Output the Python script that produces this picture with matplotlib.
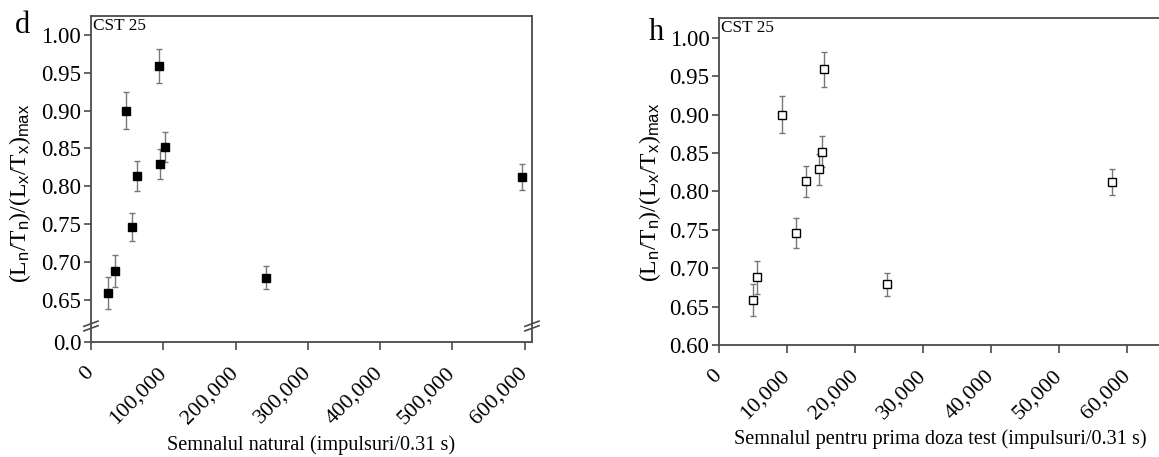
import numpy as np
import matplotlib
matplotlib.use('Agg')
from matplotlib import pyplot as plt
from matplotlib.ticker import FuncFormatter

matplotlib.rcParams['font.family'] = ['Liberation Serif']
matplotlib.rcParams['mathtext.fontset'] = 'custom'
matplotlib.rcParams['mathtext.rm'] = 'Liberation Serif'
matplotlib.rcParams['mathtext.it'] = 'Liberation Serif'
matplotlib.rcParams['mathtext.sf'] = 'Liberation Sans'
matplotlib.rcParams['font.size'] = 14

# panel d: natural signal vs normalised ratio
nat_x = [23500, 33200, 48400, 56700, 63600, 94000, 95400, 102000, 242000, 596000]
# panel h: first test-dose signal
test_x = [5000, 5600, 9260, 11300, 12800, 14700, 15150, 15450, 24700, 57800]
ratio = [0.659, 0.688, 0.900, 0.746, 0.813, 0.959, 0.829, 0.852, 0.679, 0.812]
ratio_err = [0.021, 0.021, 0.024, 0.019, 0.020, 0.023, 0.020, 0.020, 0.015, 0.017]
# in panel h the same points are listed in another order
test_ratio = [0.659, 0.688, 0.900, 0.746, 0.813, 0.829, 0.852, 0.959, 0.679, 0.812]
test_err = [0.021, 0.021, 0.024, 0.019, 0.020, 0.020, 0.020, 0.023, 0.015, 0.017]

nat_ticks = [0, 100000, 200000, 300000, 400000, 500000, 600000]
test_ticks = [0, 10000, 20000, 30000, 40000, 50000, 60000]
left_yticks = [0.0, 0.65, 0.70, 0.75, 0.80, 0.85, 0.90, 0.95, 1.00]
right_yticks = [0.60, 0.65, 0.70, 0.75, 0.80, 0.85, 0.90, 0.95, 1.00]

ylab = r'$(L_{\mathsf{n}}/T_{\mathsf{n}})/(L_{\mathsf{x}}/T_{\mathsf{x}})_{\mathsf{max}}$'
spine_col = '#4a4a4a'
err_col = '#777777'

# broken y scale for panel d
lo_top = 0.0212
up_bot = 0.6156
xp = [-10, lo_top, up_bot, 10]
fp = [-10, lo_top, lo_top + 0.0005, 10 - (up_bot - lo_top) + 0.0005]


def fwd(y):
    return np.interp(y, xp, fp)


def inv(t):
    return np.interp(t, fp, xp)


fig = plt.figure(figsize=(11.59, 4.57), dpi=100)
ax1 = fig.add_axes([0.0785, 0.2516, 0.3805, 0.7133])
ax2 = fig.add_axes([0.6204, 0.2451, 0.3874, 0.7155])

ax1.set_yscale('function', functions=(fwd, inv))
ax1.errorbar(nat_x, ratio, yerr=ratio_err, fmt='s', color='black', ms=5.5,
             ecolor=err_col, elinewidth=1, capsize=2.5, capthick=1)
ax1.set_xlim(0, 610000)
ax1.set_ylim(0, 1.025)
ax1.set_yticks(left_yticks)
ax1.yaxis.set_major_formatter(FuncFormatter(lambda v, p: '0.0' if v == 0 else '%.2f' % v))
ax1.set_xticks(nat_ticks)

ax2.errorbar(test_x, test_ratio, yerr=test_err, fmt='s', color='black', ms=5.5,
             mfc='white', mec='black', mew=1, ecolor=err_col, elinewidth=1,
             capsize=2.5, capthick=1)
ax2.set_xlim(0, 66000)
ax2.set_ylim(0.60, 1.026)
ax2.set_yticks(right_yticks)
ax2.yaxis.set_major_formatter(FuncFormatter(lambda v, p: '%.2f' % v))
ax2.set_xticks(test_ticks)

for ax in (ax1, ax2):
    ax.xaxis.set_major_formatter(FuncFormatter(lambda v, p: '{:,.0f}'.format(v)))
    for s in ax.spines.values():
        s.set_color(spine_col)
        s.set_linewidth(1.3)
    ax.tick_params(axis='both', direction='out', color=spine_col, width=1.2, labelsize=16.5)
    ax.tick_params(axis='y', length=5, pad=2)
    ax.tick_params(axis='x', length=6, pad=14)
    for lab in ax.get_xticklabels():
        lab.set_rotation(45)
        lab.set_ha('right')
        lab.set_va('center')
        lab.set_rotation_mode('anchor')
        lab.set_fontsize(16)
    ax.text(0.004, 0.995, 'CST 25', transform=ax.transAxes, ha='left', va='top', fontsize=12.4)

ax1.set_ylabel(ylab, fontsize=17)
ax1.yaxis.set_label_coords(-0.131, 0.457)
ax2.set_ylabel(ylab, fontsize=17)
ax2.yaxis.set_label_coords(-0.125, 0.468)
ax1.set_xlabel('Semnalul natural (impulsuri/0.31 s)', fontsize=14.6)
ax1.xaxis.set_label_coords(0.5, -0.286)
ax2.set_xlabel('Semnalul pentru prima doza test (impulsuri/0.31 s)', fontsize=14.6)
ax2.xaxis.set_label_coords(0.493, -0.257)

fig.text(22 / 1159, 1 - 33 / 457, 'd', fontsize=22, ha='center', va='baseline')
fig.text(656 / 1159, 1 - 40 / 457, 'h', fontsize=22, ha='center', va='baseline')

# break marks on both vertical spines of panel d
yb = 16 / 326
for xs in (0.0, 1.0):
    for dy in (-0.007, 0.007):
        ax1.plot([xs - 0.016, xs + 0.016], [yb + dy - 0.008, yb + dy + 0.008],
                 transform=ax1.transAxes, color=spine_col, lw=1.2, clip_on=False)

plt.savefig('out.png', dpi=100)
